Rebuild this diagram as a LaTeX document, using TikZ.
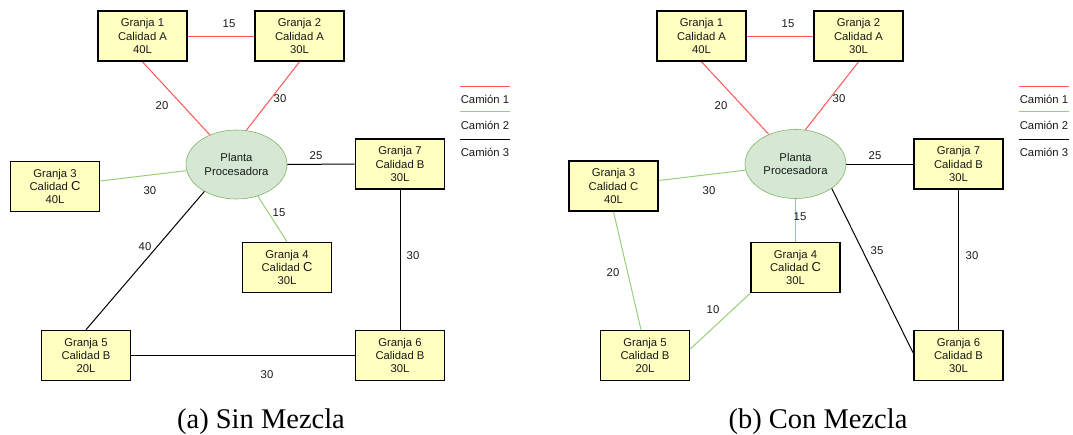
\documentclass[tikz,border=0pt]{standalone}
\usepackage{fontspec}
\setmainfont{Liberation Sans}
\newfontfamily\subfigfont{Liberation Serif}
\usetikzlibrary{shapes.geometric}
\definecolor{granjafill}{HTML}{FFFFC0}
\definecolor{plantafill}{HTML}{D5E8D4}
\definecolor{plantadraw}{HTML}{82B366}
\definecolor{camionrojo}{HTML}{FF5555}
\definecolor{camionverde}{HTML}{97D077}
\newcommand{\letraC}{{\fontsize{13}{13.3}\selectfont C}}

\begin{document}
\begin{tikzpicture}[x=1pt,y=-1pt]
			\tikzstyle{every node}=[font=\fontsize{11.3}{13.3}\selectfont,text=black!90]
			\tikzstyle{granja}=[draw,fill=granjafill,line width=1.6pt,minimum width=89pt,
			minimum height=50pt,inner sep=0pt,align=center]
			\tikzstyle{planta}=[ellipse,draw=plantadraw,fill=plantafill,line width=0.6pt,
			minimum width=101pt,minimum height=69pt,inner sep=0pt,align=center]
			\tikzstyle{camion1}=[draw=camionrojo,line width=1pt]
			\tikzstyle{camion2}=[draw=camionverde,line width=1pt]
			\tikzstyle{camion3}=[draw=black,line width=1pt]
			\tikzstyle{peso}=[inner sep=0pt]
			\tikzstyle{subfig}=[font=\subfigfont\fontsize{28.5}{30}\selectfont,text=black,anchor=base]
			\useasboundingbox (0,0) rectangle (1073,434);
			
			\node[granja] (g1a) at (142.5,36) {Granja 1\\Calidad A\\40L};
			\node[granja] (g2a) at (299.5,36) {Granja 2\\Calidad A\\30L};
			\node[planta] (pa) at (236.5,164.5) {Planta\\Procesadora};
			\node[granja] (g3a) at (55,186.5) {Granja 3\\Calidad \letraC\\40L};
			\node[granja] (g4a) at (287,267.5) {Granja 4\\Calidad \letraC\\30L};
			\node[granja] (g5a) at (86,355.5) {Granja 5\\Calidad B\\20L};
			\node[granja] (g6a) at (400,355.5) {Granja 6\\Calidad B\\30L};
			\node[granja] (g7a) at (400,164) {Granja 7\\Calidad B\\30L};
			
			\draw[camion1] (g1a.east) -- (g2a.west);
			\draw[camion1] (g1a.south) -- (pa.132);
			\draw[camion1] (g2a.south) -- (pa.74);
			\draw[camion2] ([yshift=5.5pt]g3a.east) -- (pa.187);
			\draw[camion2] (pa.-56) -- (g4a.north);
			\draw[camion3] (pa.east) -- (g7a.west);
			\draw[camion3] (g7a.south) -- (g6a.north);
			\draw[camion3] (g6a.west) -- (g5a.east);
			\draw[camion3] (g5a.north) -- (pa.220);
			
			\node[peso] (d12a) at (229,24) {15};
			\node[peso] (d1pa) at (162,106) {20};
			\node[peso] (d2pa) at (280,99) {30};
			\node[peso] (d7pa) at (316,156) {25};
			\node[peso] (d3pa) at (150,191) {30};
			\node[peso] (d4pa) at (279,213) {15};
			\node[peso] (d5pa) at (145,247) {40};
			\node[peso] (d76a) at (413,256) {30};
			\node[peso] (d56a) at (267,375) {30};
			
			\node[granja] (g1b) at (701.5,36) {Granja 1\\Calidad A\\40L};
			\node[granja] (g2b) at (858.5,36) {Granja 2\\Calidad A\\30L};
			\node[planta] (pb) at (795.5,164) {Planta\\Procesadora};
			\node[granja] (g3b) at (613.5,186) {Granja 3\\Calidad C\\40L};
			\node[granja] (g4b) at (795.5,267.5) {Granja 4\\Calidad \letraC\\30L};
			\node[granja] (g5b) at (645,355.5) {Granja 5\\Calidad B\\20L};
			\node[granja] (g6b) at (958.5,355.5) {Granja 6\\Calidad B\\30L};
			\node[granja] (g7b) at (958.5,164) {Granja 7\\Calidad B\\30L};
			
			\draw[camion1] (g1b.east) -- (g2b.west);
			\draw[camion1] (g1b.south) -- (pb.132);
			\draw[camion1] (g2b.south) -- (pb.74);
			\draw[camion2] ([yshift=5.5pt]g3b.east) -- (pb.187);
			\draw[camion2] (pb.south) -- (g4b.north);
			\draw[camion2] (g4b.south west) -- ([yshift=6.5pt]g5b.east);
			\draw[camion2] (g3b.south) -- ([xshift=-4pt]g5b.north);
			\draw[camion3] (pb.east) -- (g7b.west);
			\draw[camion3] (g7b.south) -- (g6b.north);
			\draw[camion3] (pb.-34) -- ([yshift=2.5pt]g6b.west);
			
			\node[peso] (d12b) at (788,24) {15};
			\node[peso] (d1pb) at (721,106) {20};
			\node[peso] (d2pb) at (839,99) {30};
			\node[peso] (d7pb) at (875,156) {25};
			\node[peso] (d3pb) at (709,191) {30};
			\node[peso] (d4pb) at (800,217) {15};
			\node[peso] (d35b) at (613,273) {20};
			\node[peso] (d45b) at (713,310) {10};
			\node[peso] (d6pb) at (877,251) {35};
			\node[peso] (d76b) at (972,256) {30};
			
			\foreach \lx/\ln in {485/a,1044/b}{
				\coordinate (\ln-r1) at (\lx-25,86);
				\coordinate (\ln-r2) at (\lx+25,86);
				\coordinate (\ln-v1) at (\lx-25,111);
				\coordinate (\ln-v2) at (\lx+25,111);
				\coordinate (\ln-n1) at (\lx-25,139);
				\coordinate (\ln-n2) at (\lx+25,139);
				\draw[camion1] (\ln-r1) -- (\ln-r2);
				\draw[camion2] (\ln-v1) -- (\ln-v2);
				\draw[camion3] (\ln-n1) -- (\ln-n2);
				\node[peso] (\ln-c1) at (\lx,99) {Camión 1};
				\node[peso] (\ln-c2) at (\lx,125) {Camión 2};
				\node[peso] (\ln-c3) at (\lx,152) {Camión 3};
			}
			
			\node[subfig] (suba) at (261,428) {(a) Sin Mezcla};
			\node[subfig] (subb) at (818,428) {(b) Con Mezcla};
		\end{tikzpicture}
\end{document}
